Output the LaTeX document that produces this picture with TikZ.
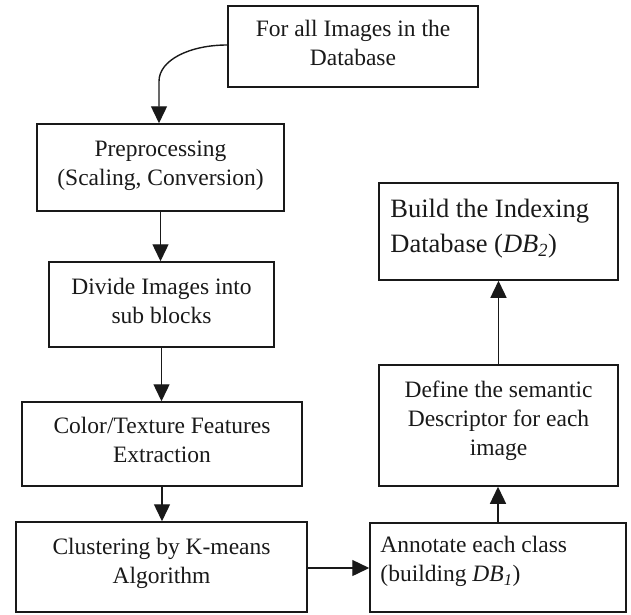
\documentclass[tikz,border=0pt]{standalone}
\usepackage{fontspec}
\setmainfont{Liberation Serif}
\usetikzlibrary{arrows.meta}
\begin{document}
\begin{tikzpicture}[x=1pt,y=-1pt,
  box/.style={draw=black!90, line width=1.5pt, rectangle, inner sep=0pt},
  txt/.style={inner sep=0pt, align=center, font=\fontsize{23.5}{29}\selectfont, text=black!90},
  arr/.style={draw=black!90, line width=1.4pt, -{Triangle[width=16pt,length=17pt]}}]
\useasboundingbox (0,0) rectangle (631,614);

% boxes
\node[box, minimum width=250pt, minimum height=81pt] (b1)  at (353,46.5) {};
\node[box, minimum width=247pt, minimum height=87pt] (pre) at (160.5,167.5) {};
\node[box, minimum width=225pt, minimum height=85pt] (div) at (161.5,304.5) {};
\node[box, minimum width=280pt, minimum height=84pt] (col) at (162,444) {};
\node[box, minimum width=291pt, minimum height=90pt] (clu) at (161.5,567) {};
\node[box, minimum width=256pt, minimum height=89pt] (ann) at (498,567.5) {};
\node[box, minimum width=239pt, minimum height=121pt] (def) at (498.5,425.5) {};
\node[box, minimum width=239pt, minimum height=97pt] (bld) at (498.5,231.5) {};

% texts
\node[txt] (t1) at ([yshift=4pt]b1.center) {For all Images in the\\Database};
\node[txt] (t2) at ([yshift=1.5pt]pre.center) {Preprocessing\\(Scaling, Conversion)};
\node[txt] (t3) at ([yshift=3.5pt]div.center) {Divide Images into\\sub blocks};
\node[txt] (t4) at ([yshift=4pt]col.center) {Color/Texture Features\\Extraction};
\node[txt] (t5) at ([yshift=4pt]clu.center) {Clustering by K-means\\Algorithm};
\node[txt, anchor=west, align=left] (t6) at ([xshift=11pt,yshift=6pt]ann.west) {Annotate each class\\(building \textit{DB}\textsubscript{\textit{1}})};
\node[txt] (t7) at ([yshift=5pt]def.center) {Define the semantic\\Descriptor for each\\image};
\node[txt, anchor=west, align=left, font=\fontsize{26.5}{35}\selectfont] (t8) at ([xshift=12pt,yshift=3pt]bld.west) {Build the Indexing\\Database (\textit{DB}\textsubscript{\textit{2}})};

% connectors
\draw[arr] ([yshift=1.5pt]b1.west) to[out=180,in=90,out distance=38pt,in distance=21pt] ([xshift=-1.5pt,yshift=42pt]pre.north) -- ([xshift=-1.5pt]pre.north);
\draw[arr] (pre.south) -- (pre.south |- div.north);
\draw[arr] (div.south) -- (div.south |- col.north);
\draw[arr] (col.south) -- (col.south |- clu.north);
\draw[arr] ([yshift=-1pt]clu.east) -- ([yshift=-1pt]clu.east -| ann.west);
\draw[arr] (ann.north) -- (ann.north |- def.south);
\draw[arr] (def.north) -- (def.north |- bld.south);
\end{tikzpicture}
\end{document}
